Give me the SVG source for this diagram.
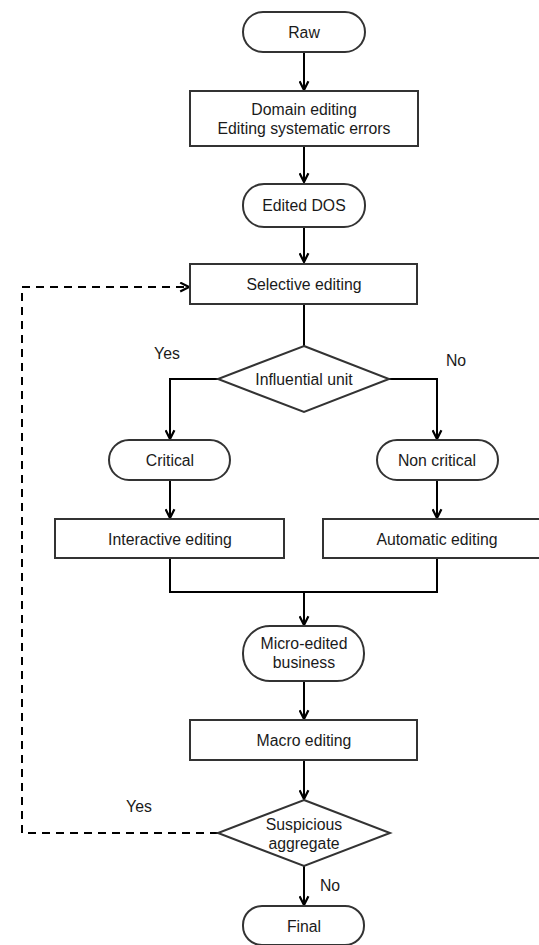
<svg xmlns="http://www.w3.org/2000/svg" width="539" height="945" viewBox="0 0 539 945">
  <style>
    .shape { fill: #ffffff; stroke: #333333; stroke-width: 2; }
    .label { font-family: "Liberation Sans", Arial, sans-serif; font-size: 15.8px; fill: #1a1a1a; text-anchor: middle; dominant-baseline: central; }
    .edge { fill: none; stroke: #000000; stroke-width: 2; }
    .dashed { stroke-dasharray: 8 6; }
  </style>
  <defs>
    <marker id="arrow" viewBox="0 0 10 10" refX="9" refY="5" markerWidth="11" markerHeight="11" markerUnits="userSpaceOnUse" orient="auto">
      <path d="M1,1 L9,5 L1,9" fill="none" stroke="#000000" stroke-width="2"/>
    </marker>
  </defs>
  <rect width="539" height="945" fill="#ffffff"/>

  <g id="connectors">
    <path class="edge" d="M304,52 V90" marker-end="url(#arrow)"/>
    <path class="edge" d="M304,146 V182" marker-end="url(#arrow)"/>
    <path class="edge" d="M304,227 V262" marker-end="url(#arrow)"/>
    <path class="edge" d="M304,304 V346"/>
    <path class="edge" d="M218,379 H170 V439" marker-end="url(#arrow)"/>
    <path class="edge" d="M389,379 H437 V439" marker-end="url(#arrow)"/>
    <path class="edge" d="M170,479 V518" marker-end="url(#arrow)"/>
    <path class="edge" d="M437,479 V518" marker-end="url(#arrow)"/>
    <path class="edge" d="M170,558 V592 H437 V558"/>
    <path class="edge" d="M304,592 V625" marker-end="url(#arrow)"/>
    <path class="edge" d="M304,681 V719" marker-end="url(#arrow)"/>
    <path class="edge" d="M304,760 V799" marker-end="url(#arrow)"/>
    <path class="edge" d="M304,866 V905" marker-end="url(#arrow)"/>
    <path class="edge dashed" d="M218,833 H22 V287 H189" marker-end="url(#arrow)"/>
    <text class="label" x="167" y="353">Yes</text>
    <text class="label" x="456" y="360">No</text>
    <text class="label" x="139" y="806">Yes</text>
    <text class="label" x="330" y="885">No</text>
  </g>

  <g id="raw">
    <rect class="shape" x="243" y="12" width="122" height="40" rx="20"/>
    <text class="label" x="304" y="32">Raw</text>
  </g>
  <g id="domain-editing">
    <rect class="shape" x="190" y="91" width="228" height="55"/>
    <text class="label" x="304" y="109">Domain editing</text>
    <text class="label" x="304" y="128">Editing systematic errors</text>
  </g>
  <g id="edited-dos">
    <rect class="shape" x="243" y="184" width="122" height="43" rx="21"/>
    <text class="label" x="304" y="205">Edited DOS</text>
  </g>
  <g id="selective-editing">
    <rect class="shape" x="190" y="264" width="227" height="40"/>
    <text class="label" x="304" y="284">Selective editing</text>
  </g>
  <g id="influential-unit">
    <polygon class="shape" points="304,346 389,379 304,412 218,379"/>
    <text class="label" x="304" y="379">Influential unit</text>
  </g>
  <g id="critical">
    <rect class="shape" x="109" y="440" width="121" height="40" rx="20"/>
    <text class="label" x="170" y="460">Critical</text>
  </g>
  <g id="non-critical">
    <rect class="shape" x="377" y="440" width="121" height="40" rx="20"/>
    <text class="label" x="437" y="460">Non critical</text>
  </g>
  <g id="interactive-editing">
    <rect class="shape" x="55" y="519" width="229" height="39"/>
    <text class="label" x="170" y="539">Interactive editing</text>
  </g>
  <g id="automatic-editing">
    <rect class="shape" x="323" y="519" width="228" height="39"/>
    <text class="label" x="437" y="539">Automatic editing</text>
  </g>
  <g id="micro-edited">
    <rect class="shape" x="243" y="626" width="121" height="55" rx="27"/>
    <text class="label" x="304" y="643">Micro-edited</text>
    <text class="label" x="304" y="662">business</text>
  </g>
  <g id="macro-editing">
    <rect class="shape" x="190" y="720" width="227" height="40"/>
    <text class="label" x="304" y="740">Macro editing</text>
  </g>
  <g id="suspicious-aggregate">
    <polygon class="shape" points="304,800 390,833 304,866 218,833"/>
    <text class="label" x="304" y="824">Suspicious</text>
    <text class="label" x="304" y="843">aggregate</text>
  </g>
  <g id="final">
    <rect class="shape" x="243" y="906" width="121" height="39" rx="19"/>
    <text class="label" x="304" y="926">Final</text>
  </g>
</svg>
